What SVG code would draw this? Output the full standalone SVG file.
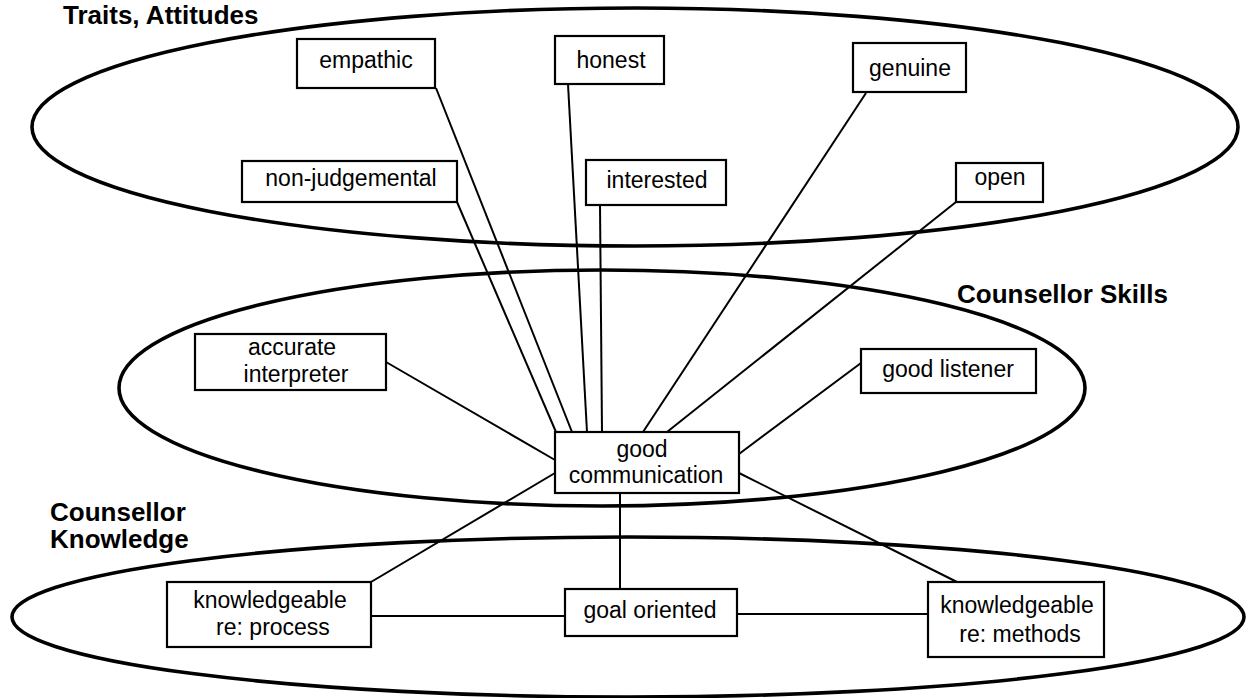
<svg xmlns="http://www.w3.org/2000/svg" width="1250" height="698" viewBox="0 0 1250 698">
<style>
.ell{fill:none;stroke:#000;stroke-width:3.6}
.box{fill:#fff;stroke:#000;stroke-width:2.2}
.con{stroke:#000;stroke-width:2;fill:none}
.lbl{font-family:"Liberation Sans",Arial,sans-serif;font-size:23px;fill:#000;text-anchor:middle}
.ttl{font-family:"Liberation Sans",Arial,sans-serif;font-size:26px;font-weight:bold;fill:#000}
</style>
<rect width="1250" height="698" fill="#fff"/>
<g id="regions">
<ellipse class="ell" cx="635" cy="127" rx="603" ry="119"/>
<ellipse class="ell" cx="602" cy="388" rx="483" ry="118"/>
<ellipse class="ell" cx="628" cy="617" rx="616" ry="80"/>
</g>
<g id="titles">
<text class="ttl" x="63" y="24">Traits, Attitudes</text>
<text class="ttl" x="957" y="303">Counsellor Skills</text>
<text class="ttl" x="50" y="521">Counsellor</text>
<text class="ttl" x="50" y="548">Knowledge</text>
</g>
<g id="connectors">
<line class="con" x1="457" y1="202" x2="556" y2="432"/>
<line class="con" x1="436" y1="88" x2="572" y2="432"/>
<line class="con" x1="568" y1="84" x2="587" y2="432"/>
<line class="con" x1="600" y1="205" x2="602" y2="432"/>
<line class="con" x1="866" y1="93" x2="643" y2="432"/>
<line class="con" x1="956" y1="202" x2="667" y2="432"/>
<line class="con" x1="386" y1="362" x2="555" y2="460"/>
<line class="con" x1="861" y1="363" x2="739" y2="454"/>
<line class="con" x1="555" y1="473" x2="371" y2="582"/>
<line class="con" x1="739" y1="473" x2="957" y2="582"/>
<line class="con" x1="620" y1="493" x2="620" y2="589"/>
<line class="con" x1="371" y1="616" x2="565" y2="616"/>
<line class="con" x1="737" y1="614" x2="928" y2="614"/>
</g>
<g id="empathic"><rect class="box" x="297" y="39" width="138" height="49"/><text class="lbl" x="366" y="68">empathic</text></g>
<g id="honest"><rect class="box" x="555" y="36" width="109" height="48"/><text class="lbl" x="611" y="68">honest</text></g>
<g id="genuine"><rect class="box" x="853" y="43" width="113" height="49"/><text class="lbl" x="910" y="76">genuine</text></g>
<g id="non-judgemental"><rect class="box" x="242" y="161" width="215" height="41"/><text class="lbl" x="351" y="186">non-judgemental</text></g>
<g id="interested"><rect class="box" x="586" y="160" width="140" height="45"/><text class="lbl" x="657" y="188">interested</text></g>
<g id="open"><rect class="box" x="956" y="163" width="87" height="39"/><text class="lbl" x="1000" y="185">open</text></g>
<g id="accurate-interpreter"><rect class="box" x="195" y="334" width="191" height="56"/><text class="lbl" x="292" y="355">accurate</text><text class="lbl" x="296" y="382">interpreter</text></g>
<g id="good-listener"><rect class="box" x="861" y="349" width="175" height="44"/><text class="lbl" x="948" y="377">good listener</text></g>
<g id="good-communication"><rect class="box" x="555" y="432" width="184" height="61"/><text class="lbl" x="642" y="457">good</text><text class="lbl" x="646" y="483">communication</text></g>
<g id="knowledgeable-process"><rect class="box" x="167" y="582" width="204" height="65"/><text class="lbl" x="270" y="608">knowledgeable</text><text class="lbl" x="273" y="635">re: process</text></g>
<g id="goal-oriented"><rect class="box" x="565" y="589" width="172" height="47"/><text class="lbl" x="650" y="618">goal oriented</text></g>
<g id="knowledgeable-methods"><rect class="box" x="928" y="582" width="176" height="75"/><text class="lbl" x="1017" y="613">knowledgeable</text><text class="lbl" x="1020" y="642">re: methods</text></g>
</svg>
